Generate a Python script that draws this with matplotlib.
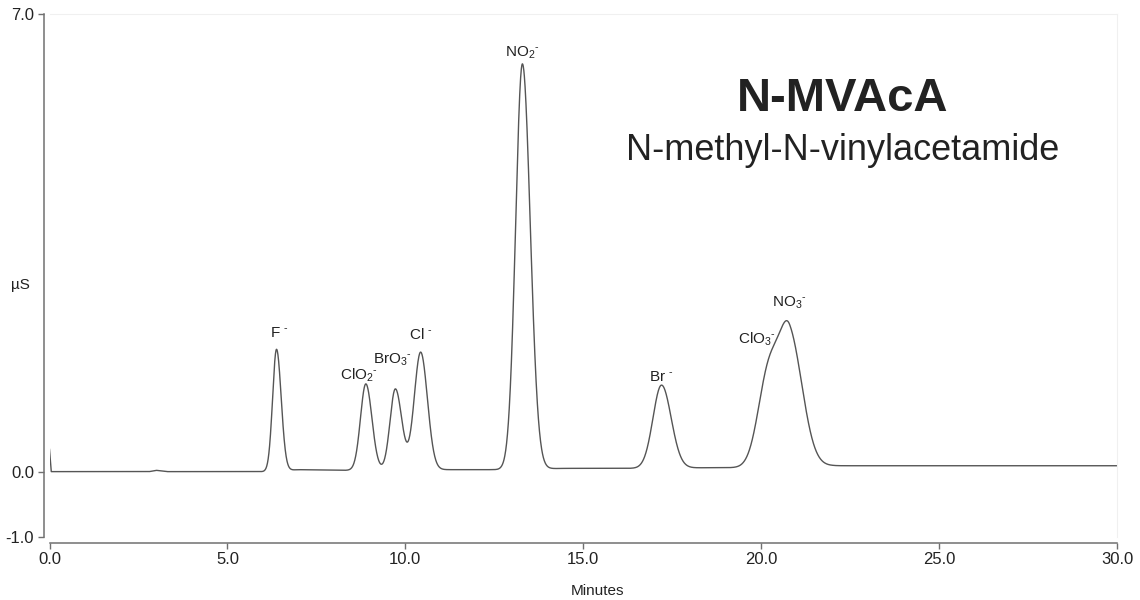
import numpy as np
import matplotlib
matplotlib.use("Agg")
import matplotlib.pyplot as plt

plt.rcParams['font.family'] = ['Liberation Sans', 'DejaVu Sans']
plt.rcParams['mathtext.fontset'] = 'custom'
plt.rcParams['mathtext.rm'] = 'Liberation Sans'
plt.rcParams['mathtext.it'] = 'Liberation Sans'

# ---- data ----
peak_names = ["F", "ClO2", "BrO3", "Cl", "NO2", "Br", "ClO3", "NO3"]
peak_labels = [r"F $^{\text{-}}$", r"ClO$_2$$^{\text{-}}$", r"BrO$_3$$^{\text{-}}$", r"Cl $^{\text{-}}$",
               r"NO$_2$$^{\text{-}}$", r"Br $^{\text{-}}$", r"ClO$_3$$^{\text{-}}$", r"NO$_3$$^{\text{-}}$"]
peak_times = [6.38, 8.89, 9.72, 10.43, 13.29, 17.20, 20.22, 20.80]      # min
peak_heights = [1.86, 1.32, 1.24, 1.80, 6.20, 1.27, 1.45, 1.95]         # uS
sigma_left = [0.11, 0.15, 0.15, 0.18, 0.19, 0.24, 0.30, 0.28]           # min
sigma_right = [0.13, 0.17, 0.18, 0.19, 0.22, 0.27, 0.30, 0.36]          # min

baseline_t = [0.0, 0.05, 2.8, 3.0, 3.3, 6.0, 7.0, 8.3, 11.0, 12.6, 14.5, 16.5, 18.5, 19.4, 22.0, 30.0]
baseline_v = [0.34, 0.0, 0.0, 0.02, 0.0, 0.0, 0.03, 0.02, 0.03, 0.03, 0.05, 0.05, 0.06, 0.06, 0.09, 0.09]

x_ticks = [0.0, 5.0, 10.0, 15.0, 20.0, 25.0, 30.0]
y_ticks = [-1.0, 0.0, 7.0]

# label centre offsets (points) relative to each apex -- layout only
label_dx = [2, -5, -2, 0, 0, 0, -9, 0]
label_dy = [12, 6, 21, 13, 8, 6, 13, 16]

# ---- build trace ----
t = np.linspace(0, 30, 6001)
y = np.interp(t, baseline_t, baseline_v)
for tr, h, sl, sr in zip(peak_times, peak_heights, sigma_left, sigma_right):
    s = np.where(t < tr, sl, sr)
    y = y + h * np.exp(-0.5 * ((t - tr) / s) ** 2)

fig = plt.figure(figsize=(11.4, 6.0), dpi=100)
ax = fig.add_axes([49.5 / 1140, 1 - 537 / 600, 1067.5 / 1140, 523 / 600])
ax.plot(t, y, color='#555555', lw=1.0)

ax.set_xlim(0, 30)
ax.set_ylim(-1, 7)
ax.set_xticks(x_ticks)
ax.set_xticklabels([f"{v:.1f}" for v in x_ticks])
ax.set_yticks(y_ticks)
ax.set_yticklabels([f"{v:.1f}" for v in y_ticks])
ax.tick_params(axis='both', length=4, width=1.0, color='#707070',
               labelsize=12, labelcolor='#222222', pad=3)

for side in ['left', 'bottom']:
    ax.spines[side].set_position(('outward', 4))
    ax.spines[side].set_color('#707070')
    ax.spines[side].set_linewidth(1.1)
for side in ['top', 'right']:
    ax.spines[side].set_color('#f0f0f0')
    ax.spines[side].set_linewidth(0.8)

# peak labels
for i, lab in enumerate(peak_labels):
    tr = peak_times[i]
    ya = np.interp(tr, t, y)
    ax.annotate(lab, (tr, ya), xytext=(label_dx[i], label_dy[i]),
                textcoords='offset points', ha='center', va='center',
                fontsize=11, color='#222222')

fig.text(843 / 1140, 1 - 99 / 600, "N-MVAcA", ha='center', va='center',
         fontsize=34, fontweight='bold', color='#222222')
fig.text(843 / 1140, 1 - 150 / 600, "N-methyl-N-vinylacetamide", ha='center', va='center',
         fontsize=26, color='#222222')

fig.text(20 / 1140, 1 - 285 / 600, "µS", ha='center', va='center', fontsize=11, color='#222222')
fig.text(598 / 1140, 1 - 591 / 600, "Minutes", ha='center', va='center', fontsize=11, color='#222222')

fig.savefig("out.png", dpi=100)
